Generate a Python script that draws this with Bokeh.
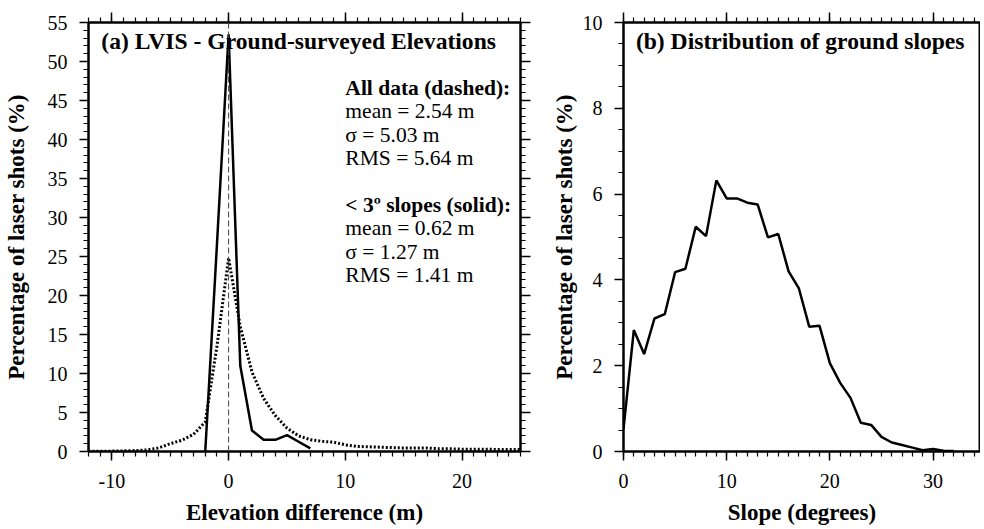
from bokeh.plotting import figure
from bokeh.layouts import row
from bokeh.models import Range1d, SingleIntervalTicker, LinearAxis, Label, Span
from bokeh.embed import file_html
from bokeh.resources import INLINE

# ---------------- data ----------------
# (a) elevation difference histograms (percent of laser shots)
elev_solid_x = [-2, -1, 0, 1, 2, 3, 4, 5, 6, 7]
elev_solid_y = [0.0, 26.5, 53.5, 11.0, 2.7, 1.5, 1.5, 2.1, 1.25, 0.4]

elev_all_x = [-12, -11, -10, -9, -8, -7, -6, -5, -4, -3, -2, -1, 0, 1, 2, 3, 4, 5, 6,
              7, 8, 9, 10, 11, 12, 13, 14, 15, 16, 17, 18, 19, 20, 21, 22, 23, 24, 25]
elev_all_y = [0.02, 0.03, 0.05, 0.08, 0.12, 0.2, 0.45, 1.0, 1.45, 2.2, 3.8, 13.5, 24.8,
              16.0, 10.2, 6.8, 4.6, 3.0, 2.0, 1.5, 1.3, 1.2, 0.85, 0.65, 0.6, 0.55, 0.5,
              0.45, 0.45, 0.45, 0.35, 0.35, 0.3, 0.3, 0.3, 0.25, 0.25, 0.25]

# (b) slope distribution
slope_x = list(range(0, 33))
slope_y = [0.52, 2.83, 2.27, 3.10, 3.2, 4.18, 4.26, 5.24, 5.02, 6.32, 5.9, 5.9, 5.8,
           5.76, 4.99, 5.07, 4.2, 3.8, 2.91, 2.93, 2.06, 1.6, 1.25, 0.67, 0.62, 0.34,
           0.21, 0.15, 0.09, 0.03, 0.06, 0.02, 0.01]

# tick labels
a_xticks = [-10, 0, 10, 20]
a_xtick_labels = ["-10", "0", "10", "20"]
a_yticks = [0, 5, 10, 15, 20, 25, 30, 35, 40, 45, 50, 55]
b_xticks = [0, 10, 20, 30]
b_yticks = [0, 2, 4, 6, 8, 10]

title_a = "(a) LVIS - Ground-surveyed Elevations"
title_b = "(b) Distribution of ground slopes"
xlabel_a = "Elevation difference (m)"
xlabel_b = "Slope (degrees)"
ylabel = "Percentage of laser shots (%)"
stats_lines = [
    ("All data (dashed):", True),
    ("mean = 2.54 m", False),
    ("\u03c3 = 5.03 m", False),
    ("RMS = 5.64 m", False),
    ("< 3\u00ba slopes (solid):", True),
    ("mean = 0.62 m", False),
    ("\u03c3 = 1.27 m", False),
    ("RMS = 1.41 m", False),
]

FONT = "Liberation Serif"
FIG_H = 527


def make_ticker(ticks, n_minor):
    return SingleIntervalTicker(interval=ticks[1] - ticks[0], num_minor_ticks=n_minor)


def style_ticks(ax, out_major, out_minor):
    ax.axis_line_color = "black"
    ax.axis_line_width = 2
    ax.major_tick_line_color = "black"
    ax.major_tick_line_width = 1.5
    ax.minor_tick_line_color = "black"
    ax.minor_tick_line_width = 1.2
    ax.major_tick_out = out_major
    ax.major_tick_in = 0
    ax.minor_tick_out = out_minor
    ax.minor_tick_in = 0


def style_main_axis(ax, ticker, label, label_standoff, tick_standoff):
    ax.ticker = ticker
    ax.axis_label = label
    ax.axis_label_text_font = FONT
    ax.axis_label_text_font_style = "bold"
    ax.axis_label_text_font_size = "23px"
    ax.axis_label_text_color = "black"
    ax.axis_label_standoff = label_standoff
    ax.major_label_text_font = FONT
    ax.major_label_text_font_size = "20px"
    ax.major_label_text_color = "black"
    ax.major_label_standoff = tick_standoff
    style_ticks(ax, 9, 5)


def extra_axis(ticker):
    ax = LinearAxis(ticker=ticker)
    ax.major_label_text_font_size = "1px"
    ax.major_label_text_color = None
    ax.major_label_standoff = 0
    style_ticks(ax, 10, 5)
    return ax


def base_figure(width, xr, yr, mb_left, mb_right):
    p = figure(width=width, height=FIG_H, x_range=xr, y_range=yr,
               output_backend="svg", toolbar_location=None,
               min_border_left=mb_left, min_border_right=mb_right,
               min_border_top=22, min_border_bottom=74)
    p.xgrid.visible = False
    p.ygrid.visible = False
    p.outline_line_color = "black"
    p.outline_line_width = 2
    p.background_fill_color = "white"
    p.border_fill_color = "white"
    return p


# ---------------- panel (a) ----------------
p1 = base_figure(532, Range1d(-12, 25), Range1d(0, 55), 88, 12)
style_main_axis(p1.xaxis[0], make_ticker(a_xticks, 10), xlabel_a, 9, 13)
p1.xaxis[0].major_label_overrides = dict(zip(a_xticks, a_xtick_labels))
style_main_axis(p1.yaxis[0], make_ticker(a_yticks, 5), ylabel, 16, 12)
p1.add_layout(extra_axis(make_ticker(a_xticks, 10)), "above")
p1.add_layout(extra_axis(make_ticker(a_yticks, 5)), "right")

p1.add_layout(Span(location=0, dimension="height", line_color="#444444",
                   line_width=1, line_dash="6 3"))
p1.line(elev_all_x, elev_all_y, line_color="black", line_width=3, line_dash="2 2")
p1.line(elev_solid_x, elev_solid_y, line_color="black", line_width=2.5)

p1.add_layout(Label(x=-10.9, y=52.6, text=title_a, text_font=FONT,
                    text_font_style="bold", text_font_size="23.6px",
                    text_color="black", text_baseline="middle"))
stat_y = [46.6, 43.6, 40.6, 37.6, 31.6, 28.6, 25.6, 22.6]
for (txt, bold), yy in zip(stats_lines, stat_y):
    p1.add_layout(Label(x=10.0, y=yy, text=txt, text_font=FONT,
                        text_font_style="bold" if bold else "normal",
                        text_font_size="21.5px", text_color="black",
                        text_baseline="middle"))

# ---------------- panel (b) ----------------
p2 = base_figure(448, Range1d(0, 34.6), Range1d(0, 10), 91, 0)
style_main_axis(p2.xaxis[0], make_ticker(b_xticks, 10), xlabel_b, 9, 13)
style_main_axis(p2.yaxis[0], make_ticker(b_yticks, 4), ylabel, 3, 12)
p2.add_layout(extra_axis(make_ticker(b_xticks, 10)), "above")

p2.line(slope_x, slope_y, line_color="black", line_width=2.5)
p2.add_layout(Label(x=1.2, y=9.58, text=title_b, text_font=FONT,
                    text_font_style="bold", text_font_size="23.6px",
                    text_color="black", text_baseline="middle"))

layout = row(p1, p2)
open("out.html", "w").write(file_html(layout, INLINE))
